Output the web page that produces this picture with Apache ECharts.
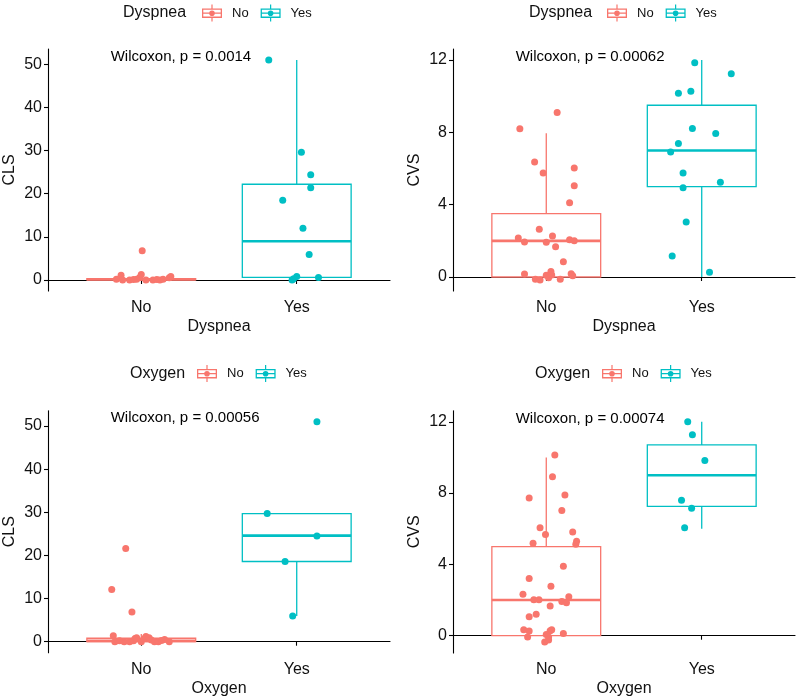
<!DOCTYPE html>
<html>
<head>
<meta charset="utf-8">
<script src="https://cdn.jsdelivr.net/npm/echarts@6/dist/echarts.min.js"></script>
<style>html,body{margin:0;padding:0;background:#fff}#c{width:796px;height:698px}</style>
</head>
<body>
<div id="c"></div>
<script>
// ---------- data ----------
const groups = ['No', 'Yes'];
const groupTitles = ['Dyspnea', 'Dyspnea', 'Oxygen', 'Oxygen'];
const yNames = ['CLS', 'CVS', 'CLS', 'CVS'];
const pTexts = ['Wilcoxon, p = 0.0014', 'Wilcoxon, p = 0.00062', 'Wilcoxon, p = 0.00056', 'Wilcoxon, p = 0.00074'];
const pTextY = [51.8, 12.2, 51.9, 12.15];
const yTicksCLS = [0, 10, 20, 30, 40, 50];
const yTicksCVS = [0, 4, 8, 12];

// box stats: [lower whisker, Q1, median, Q3, upper whisker]
const boxClsDysNo = [0, 0.05, 0.15, 0.3, 0.3];
const boxClsDysYes = [0, 0.6, 9.0, 22.2, 51.0];
const boxCvsDysNo = [0, 0, 2.0, 3.5, 7.95];
const boxCvsDysYes = [0, 5.0, 7.0, 9.5, 12.0];
const boxClsOxyNo = [0, 0, 0.2, 0.8, 1.8];
const boxClsOxyYes = [5.95, 18.6, 24.6, 29.7, 29.7];
const boxCvsOxyNo = [0, 0, 2.0, 5.0, 10.0];
const boxCvsOxyYes = [6.0, 7.25, 9.0, 10.7, 12.0];

// jittered points: values and horizontal jitter
const clsDysNoVal = [0.15, 1.1, 0.0, 0.0, 0.15, 0.6, 1.3, 6.8, 0.0, 0.0, 0.0, 0.15, 0.5, 0.8, 0.1, 0.1];
const clsDysNoJit = [-0.16, -0.13, -0.12, -0.075, -0.03, -0.01, 0.0, 0.006, 0.03, 0.075, 0.12, 0.14, 0.18, 0.19, -0.05, 0.1];
const clsDysYesVal = [51.0, 29.6, 24.4, 21.4, 18.5, 12.0, 5.9, 0.8, 0.0, 0.3, 0.6];
const clsDysYesJit = [-0.18, 0.03, 0.09, 0.09, -0.09, 0.04, 0.08, 0.0, -0.03, -0.02, 0.14];

const cvsDysNoVal = [9.1, 8.2, 6.36, 5.75, 6.03, 5.05, 4.11, 2.64, 2.27, 2.16, 1.94, 1.92, 2.06, 2.0, 1.68, 0.85, 0.17, -0.13, -0.17, 0.1, -0.04, 0.3, 0.11, -0.13, 0.18, 0.07];
const cvsDysNoJit = [0.07, -0.17, -0.075, -0.02, 0.18, 0.18, 0.15, -0.045, 0.04, -0.18, -0.14, 0.0, 0.15, 0.18, 0.06, 0.11, -0.14, -0.07, -0.04, 0.0, 0.015, 0.03, 0.035, 0.09, 0.16, 0.17];
const cvsDysYesVal = [11.85, 11.24, 10.16, 10.27, 8.22, 7.93, 7.39, 6.91, 5.75, 5.24, 4.94, 3.04, 1.16, 0.26];
const cvsDysYesJit = [-0.045, 0.19, -0.15, -0.07, -0.06, 0.09, -0.15, -0.2, -0.12, 0.12, -0.12, -0.1, -0.19, 0.05];

const clsOxyNoVal = [21.6, 12.1, 6.9, 1.4, 0, 0, 0.2, 0.77, 0.9, 0, 0.77, 1.2, 0.9, 0.4, 0, 0, 0, 0.2, 0, 0.5, 0.3];
const clsOxyNoJit = [-0.1, -0.19, -0.06, -0.18, -0.17, -0.11, -0.05, -0.04, -0.03, 0, 0.02, 0.03, 0.05, 0.065, 0.085, 0.11, 0.18, -0.14, -0.075, 0.15, 0.13];
const clsOxyYesVal = [51.0, 29.7, 24.5, 18.6, 5.95];
const clsOxyYesJit = [0.13, -0.19, 0.13, -0.075, -0.026];

const cvsOxyNoVal = [10.13, 8.92, 7.73, 7.89, 7.02, 6.05, 5.67, 5.82, 5.19, 5.3, 5.13, 3.9, 3.21, 2.78, 2.33, 2.02, 2.02, 2.18, 1.92, 1.85, 1.66, 1.21, 1.06, 0.34, 0.26, -0.07, 0.28, 0.34, 0.07, -0.07, -0.35, -0.24, 0.13];
const cvsOxyNoJit = [0.055, 0.04, -0.11, 0.12, 0.1, -0.04, -0.005, 0.17, -0.085, 0.195, 0.19, 0.11, -0.11, 0.03, -0.15, -0.08, -0.047, 0.145, 0.1, 0.13, 0.025, -0.065, -0.11, -0.145, -0.11, -0.12, 0.025, 0.035, 0.0, 0.015, -0.01, 0.015, 0.11];
const cvsOxyYesVal = [12.0, 11.27, 9.82, 7.6, 7.15, 6.05];
const cvsOxyYesJit = [-0.09, -0.06, 0.02, -0.13, -0.065, -0.11];

// ---------- layout / style ----------
const COLORS = ['#F8766D', '#00BFC4'];
const FONT = 'Liberation Sans, Arial, sans-serif';
const TXT = '#111111';
const panels = [
  {grid: {left: 48, top: 49, width: 342, height: 242}, yr: [-2.55, 53.56], ticks: yTicksCLS,
   boxes: [boxClsDysNo, boxClsDysYes], pts: [[clsDysNoVal, clsDysNoJit], [clsDysYesVal, clsDysYesJit]]},
  {grid: {left: 453, top: 49, width: 342, height: 242}, yr: [-0.774, 12.61], ticks: yTicksCVS,
   boxes: [boxCvsDysNo, boxCvsDysYes], pts: [[cvsDysNoVal, cvsDysNoJit], [cvsDysYesVal, cvsDysYesJit]]},
  {grid: {left: 48, top: 410.7, width: 342, height: 242}, yr: [-2.55, 53.56], ticks: yTicksCLS,
   boxes: [boxClsOxyNo, boxClsOxyYes], pts: [[clsOxyNoVal, clsOxyNoJit], [clsOxyYesVal, clsOxyYesJit]]},
  {grid: {left: 453, top: 410.7, width: 342, height: 242.6}, yr: [-0.97, 12.62], ticks: yTicksCVS,
   boxes: [boxCvsOxyNo, boxCvsOxyYes], pts: [[cvsOxyNoVal, cvsOxyNoJit], [cvsOxyYesVal, cvsOxyYesJit]]}
];
const legendPos = [
  {title: 123, icon: 202, top: 4.5},
  {title: 529, icon: 607, top: 4.5},
  {title: 130, icon: 197, top: 365},
  {title: 535, icon: 602, top: 365}
];

const ICON = 'path://M0 4L20 4L20 13.4L0 13.4Z M1.3 5.3L1.3 12.1L18.7 12.1L18.7 5.3Z ' +
  'M0 8.1L20 8.1L20 9.3L0 9.3Z M9.4 0L10.6 0L10.6 4L9.4 4Z M9.4 13.4L10.6 13.4L10.6 17L9.4 17Z ' +
  'M7.2 8.7A2.8 2.8 0 1 1 12.8 8.7A2.8 2.8 0 1 1 7.2 8.7Z';

function boxRender(params, api) {
  const x = api.value(0), lo = api.value(1), q1 = api.value(2), med = api.value(3), q3 = api.value(4), hi = api.value(5);
  const hw = 0.35;
  const tl = api.coord([x - hw, q3]), br = api.coord([x + hw, q1]);
  const ml = api.coord([x - hw, med]), mr = api.coord([x + hw, med]);
  const pHi = api.coord([x, hi]), pQ3 = api.coord([x, q3]), pQ1 = api.coord([x, q1]), pLo = api.coord([x, lo]);
  const color = api.visual('color');
  return {
    type: 'group',
    children: [
      {type: 'line', shape: {x1: pHi[0], y1: pHi[1], x2: pQ3[0], y2: pQ3[1]}, style: {stroke: color, lineWidth: 1.3}},
      {type: 'line', shape: {x1: pLo[0], y1: pLo[1], x2: pQ1[0], y2: pQ1[1]}, style: {stroke: color, lineWidth: 1.3}},
      {type: 'rect', shape: {x: tl[0], y: tl[1], width: br[0] - tl[0], height: Math.max(br[1] - tl[1], 0.5)},
       style: {fill: '#fff', stroke: color, lineWidth: 1.3}},
      {type: 'line', shape: {x1: ml[0], y1: ml[1], x2: mr[0], y2: mr[1]}, style: {stroke: color, lineWidth: 2.6}}
    ]
  };
}

const grid = [], xAxis = [], yAxis = [], series = [], legend = [], title = [];
panels.forEach((p, i) => {
  grid.push(p.grid);
  xAxis.push({
    type: 'value', gridIndex: i, min: 0.4, max: 2.6,
    name: groupTitles[i], nameLocation: 'middle', nameGap: 28,
    nameTextStyle: {fontFamily: FONT, fontSize: 16, color: TXT},
    axisLine: {show: true, lineStyle: {color: '#000', width: 1.1}},
    axisTick: {show: true, length: 4, lineStyle: {color: '#000', width: 1.1}, customValues: [1, 2]},
    axisLabel: {customValues: [1, 2], formatter: v => groups[Math.round(v) - 1], margin: 9,
      fontFamily: FONT, fontSize: 16, color: TXT},
    splitLine: {show: false}
  });
  yAxis.push({
    type: 'value', gridIndex: i, min: p.yr[0], max: p.yr[1],
    name: yNames[i], nameLocation: 'middle', nameGap: 30,
    nameTextStyle: {fontFamily: FONT, fontSize: 16, color: TXT},
    axisLine: {show: true, lineStyle: {color: '#000', width: 1.1}},
    axisTick: {show: true, length: 4, lineStyle: {color: '#000', width: 1.1}, customValues: p.ticks},
    axisLabel: {customValues: p.ticks, margin: 6, fontFamily: FONT, fontSize: 16, color: TXT},
    splitLine: {show: false}
  });
  groups.forEach((g, k) => {
    const b = p.boxes[k];
    series.push({
      type: 'custom', name: g, xAxisIndex: i, yAxisIndex: i, z: 2,
      itemStyle: {color: COLORS[k]},
      renderItem: boxRender,
      encode: {x: 0, y: [1, 2, 3, 4, 5]},
      data: [[k + 1, b[0], b[1], b[2], b[3], b[4]]]
    });
  });
  groups.forEach((g, k) => {
    const [vals, jit] = p.pts[k];
    series.push({
      type: 'scatter', name: g, xAxisIndex: i, yAxisIndex: i, z: 3,
      symbolSize: 7, itemStyle: {color: COLORS[k], opacity: 1},
      data: vals.map((v, j) => [k + 1 + jit[j], v])
    });
  });
  series.push({
    type: 'scatter', name: 'pval' + i, xAxisIndex: i, yAxisIndex: i, z: 4, silent: true,
    symbolSize: 1, itemStyle: {color: 'rgba(0,0,0,0)'},
    label: {show: true, position: 'right', distance: 0, align: 'left', verticalAlign: 'middle',
      formatter: pTexts[i], fontFamily: FONT, fontSize: 15, color: '#000',
      textBorderWidth: 0, opacity: 1},
    data: [[0.8, pTextY[i]]]
  });
  const lp = legendPos[i];
  legend.push({
    left: lp.icon, top: lp.top, padding: 0, itemWidth: 20, itemHeight: 17, itemGap: 12,
    selectedMode: false,
    data: groups.map(g => ({name: g, icon: ICON})),
    textStyle: {fontFamily: FONT, fontSize: 13, color: TXT, padding: [0, 0, 0, 5]}
  });
  title.push({
    text: groupTitles[i], left: lp.title, top: lp.top + 0.5, padding: 0,
    textStyle: {fontFamily: FONT, fontSize: 16, fontWeight: 'normal', color: TXT}
  });
});

const chart = echarts.init(document.getElementById('c'), null, {renderer: 'canvas'});
chart.setOption({
  animation: false,
  backgroundColor: '#fff',
  title, grid, xAxis, yAxis, legend, series
});
</script>
</body>
</html>
